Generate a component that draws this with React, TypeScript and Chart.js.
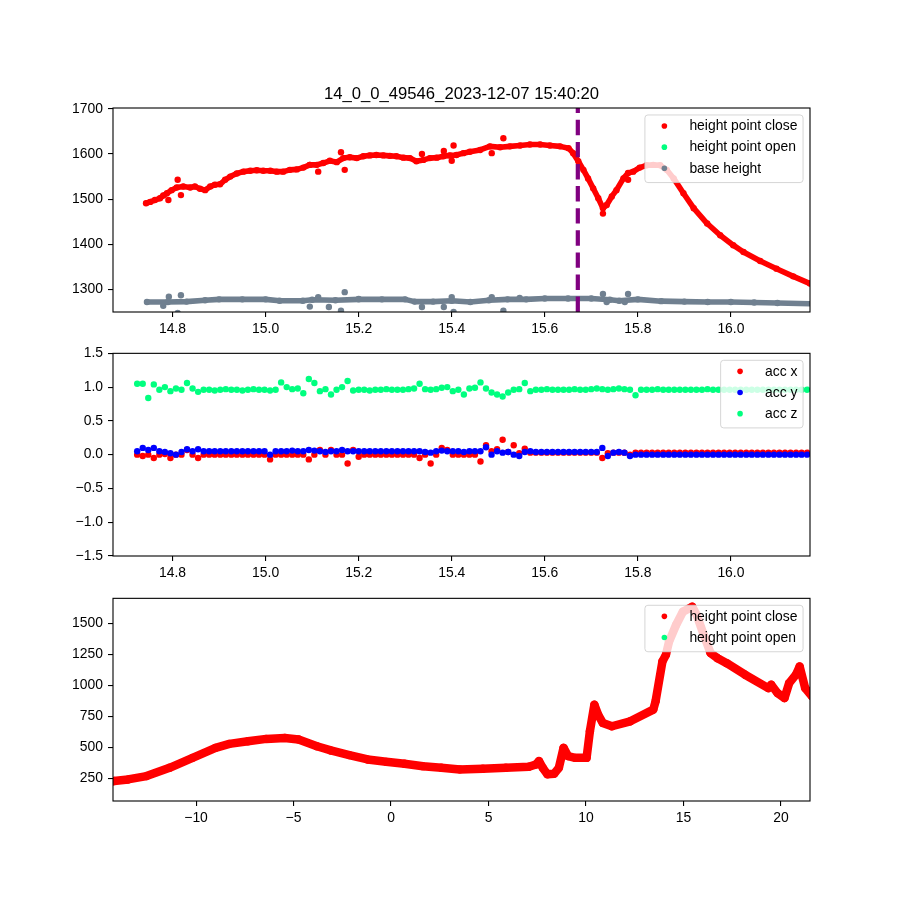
import React, { useEffect, useRef } from "react";
import { Chart, registerables } from "chart.js";
Chart.register(...registerables);

const FONT = "'Liberation Sans', Arial, sans-serif";
const RED = "#ff0000";
const GREEN = "#00ff7f";
const GRAY = "#708090";
const BLUE = "#0000ff";
const PURPLE = "#800080";

// ---------- top panel ----------
const titleText = "14_0_0_49546_2023-12-07 15:40:20";
const topXTicks = [14.8, 15.0, 15.2, 15.4, 15.6, 15.8, 16.0];
const topYTicks = [1300, 1400, 1500, 1600, 1700];
const closeX = [14.743, 14.752, 14.762, 14.773, 14.780, 14.788, 14.798, 14.809, 14.823, 14.838, 14.848, 14.859, 14.870, 14.881, 14.891, 14.902, 14.913, 14.924, 14.938, 14.952, 14.967, 14.981, 14.995, 15.010, 15.024, 15.038, 15.052, 15.067, 15.081, 15.095, 15.110, 15.124, 15.138, 15.153, 15.167, 15.181, 15.196, 15.210, 15.224, 15.238, 15.253, 15.267, 15.281, 15.296, 15.310, 15.324, 15.339, 15.353, 15.368, 15.382, 15.396, 15.410, 15.425, 15.439, 15.461, 15.482, 15.504, 15.525, 15.547, 15.568, 15.590, 15.611, 15.633, 15.651, 15.661, 15.672, 15.683, 15.693, 15.704, 15.715, 15.725, 15.733, 15.744, 15.754, 15.769, 15.779, 15.790, 15.804, 15.819, 15.833, 15.848, 15.862, 15.877, 15.898, 15.920, 15.949, 15.977, 16.005, 16.027, 16.063, 16.098, 16.134, 16.170, 16.19];
const closeY = [1491, 1494, 1498, 1502, 1508, 1513, 1520, 1526, 1528, 1526, 1528, 1523, 1520, 1528, 1532, 1533, 1543, 1550, 1557, 1561, 1563, 1564, 1563, 1563, 1561, 1561, 1565, 1566, 1570, 1576, 1576, 1580, 1585, 1582, 1591, 1593, 1591, 1595, 1597, 1598, 1597, 1596, 1595, 1592, 1591, 1584, 1587, 1591, 1592, 1595, 1597, 1598, 1602, 1605, 1609, 1617, 1615, 1617, 1619, 1621, 1621, 1619, 1617, 1613, 1602, 1584, 1565, 1546, 1524, 1502, 1480, 1487, 1506, 1520, 1546, 1558, 1561, 1570, 1575, 1576, 1575, 1565, 1546, 1513, 1480, 1446, 1420, 1398, 1383, 1363, 1346, 1329, 1313, 1305];
const closeOutX = [14.811, 14.818, 14.791, 15.162, 15.17, 15.095, 15.113, 15.383, 15.404, 15.40, 15.336, 15.511, 15.486, 15.779, 15.725];
const closeOutY = [1543, 1509, 1498, 1604, 1565, 1576, 1561, 1607, 1619, 1585, 1600, 1635, 1602, 1543, 1468];
const openX: number[] = [];
const openY: number[] = [];
const baseX = [14.745, 14.79, 14.83, 14.87, 14.90, 14.95, 15.00, 15.03, 15.08, 15.10, 15.15, 15.20, 15.25, 15.30, 15.32, 15.36, 15.40, 15.44, 15.48, 15.52, 15.56, 15.60, 15.65, 15.70, 15.74, 15.76, 15.80, 15.85, 15.90, 15.95, 16.00, 16.05, 16.10, 16.18];
const baseY = [1272, 1272, 1273, 1276, 1278, 1278, 1278, 1275, 1275, 1277, 1276, 1278, 1278, 1278, 1273, 1273, 1275, 1272, 1276, 1278, 1278, 1280, 1280, 1280, 1277, 1275, 1278, 1274, 1273, 1272, 1272, 1271, 1270, 1268];
const baseOutX = [14.792, 14.818, 14.78, 14.811, 15.113, 15.095, 15.136, 15.17, 15.162, 15.2, 15.336, 15.383, 15.40, 15.404, 15.486, 15.511, 15.546, 15.725, 15.733, 15.772, 15.779];
const baseOutY = [1284, 1287, 1264, 1248, 1283, 1262, 1261, 1294, 1253, 1279, 1261, 1261, 1283, 1250, 1283, 1253, 1281, 1290, 1272, 1272, 1290];
const markerX = [15.671];

// ---------- middle panel ----------
const accStart = 14.724;
const accStep = 0.0119;
const midYTicks = [-1.5, -1.0, -0.5, 0.0, 0.5, 1.0, 1.5];
const accXv = [
  0.0, -0.02, 0.0, -0.05, 0.0, 0.01, -0.05, 0.0, 0.0, 0.07, 0.0, -0.05, 0.0,
  0.0, 0.0, 0.0, 0.0, 0.0, 0.0, 0.0, 0.0, 0.0, 0.0, 0.0, -0.07, 0.0,
  0.0, 0.0, 0.0, 0.0, 0.0, -0.07, 0.0, 0.07, 0.0, 0.07, 0.0, 0.0, -0.13, 0.07,
  -0.03, 0.0, 0.0, 0.0, 0.0, 0.0, 0.0, 0.0, 0.0, 0.0, 0.0,
  -0.05, 0.0, -0.13, 0.0, 0.1, 0.07, 0.0, 0.0, 0.0, 0.0, 0.0, -0.1, 0.14, 0.05, 0.08, 0.22, 0.04, 0.14, 0.02, 0.09, 0.03,
  0.03, 0.03, 0.03, 0.03, 0.03, 0.03, 0.03, 0.03, 0.03, 0.03, 0.03, 0.03, -0.05, 0.02, 0.03, 0.03, 0.03,
  0.0, 0.03,
  0.03, 0.03, 0.03, 0.03, 0.03, 0.03, 0.03, 0.03, 0.03, 0.03, 0.03, 0.03, 0.03, 0.03, 0.03, 0.03, 0.03, 0.03, 0.03, 0.03, 0.03, 0.03, 0.03, 0.03, 0.03, 0.03, 0.03, 0.03, 0.03, 0.03, 0.03,
];
const accYv = [
  0.05, 0.10, 0.07, 0.10, 0.05, 0.04, 0.02, 0.0, 0.04, 0.08, 0.05, 0.08, 0.05,
  0.05, 0.05, 0.05, 0.05, 0.05, 0.05, 0.05, 0.05, 0.05, 0.05, 0.05, 0.0, 0.05,
  0.05, 0.05, 0.06, 0.05, 0.05, 0.07, 0.06, 0.05, 0.04, 0.05, 0.05, 0.07, 0.05, 0.05,
  0.05, 0.05, 0.05, 0.05, 0.05, 0.05, 0.05, 0.05, 0.05, 0.05, 0.05,
  0.05, 0.04, 0.03, 0.05, 0.06, 0.05, 0.05, 0.05, 0.04, 0.05, 0.05, 0.05, 0.11, 0.0, 0.05, 0.03, 0.04, 0.0, -0.02, 0.04, 0.05,
  0.04, 0.04, 0.04, 0.04, 0.04, 0.04, 0.04, 0.04, 0.04, 0.04, 0.04, 0.04, 0.10, -0.02, 0.03, 0.04, 0.03,
  -0.02, 0.0,
  0.0, 0.0, 0.0, 0.0, 0.0, 0.0, 0.0, 0.0, 0.0, 0.0, 0.0, 0.0, 0.0, 0.0, 0.0, 0.0, 0.0, 0.0, 0.0, 0.0, 0.0, 0.0, 0.0, 0.0, 0.0, 0.0, 0.0, 0.0, 0.0, 0.0, 0.0,
];
const accZv = [
  1.05, 1.05, 0.84, 1.04, 0.96, 1.00, 0.94, 0.98, 0.96, 1.06, 0.98, 0.93, 0.96,
  0.96, 0.95, 0.96, 0.97, 0.96, 0.96, 0.95, 0.96, 0.97, 0.96, 0.96, 0.95, 0.96,
  1.07, 1.00, 0.97, 0.98, 0.91, 1.12, 1.06, 0.94, 0.97, 0.89, 0.96, 1.00, 1.09, 0.95,
  0.96, 0.96, 0.95, 0.96, 0.96, 0.97, 0.96, 0.96, 0.96, 0.97, 0.98,
  1.05, 0.97, 0.96, 0.97, 0.99, 1.00, 0.94, 0.96, 0.89, 0.98, 0.99, 1.07, 0.98, 0.92, 0.89, 0.86, 0.92, 0.96, 0.97, 1.06, 0.94,
  0.96, 0.96, 0.97, 0.96, 0.96, 0.96, 0.96, 0.97, 0.96, 0.96, 0.97, 0.98, 0.97, 0.96, 0.97, 0.98, 0.97,
  0.96, 0.88,
  0.96, 0.96, 0.96, 0.97, 0.96, 0.96, 0.96, 0.96, 0.96, 0.96, 0.96, 0.96, 0.97, 0.96, 0.96, 0.96, 0.96, 0.96, 0.96, 0.96, 0.96, 0.96, 0.96, 0.96, 0.96, 0.96, 0.96, 0.96, 0.96, 0.96, 0.96,
];

// ---------- bottom panel ----------
const botXTicks = [-10, -5, 0, 5, 10, 15, 20];
const botYTicks = [250, 500, 750, 1000, 1250, 1500];
const histX = [-14.3, -14.2, -13.49, -12.54, -11.36, -10.18, -9.0, -8.29, -7.34, -6.40, -5.45, -4.74, -3.80, -3.09, -2.14, -1.20, -0.25, 0.69, 1.64, 2.58, 3.53, 4.71, 5.89, 7.07, 7.43, 7.59, 7.78, 8.02, 8.37, 8.61, 8.85, 9.08, 9.44, 10.03, 10.20, 10.43, 10.62, 10.86, 11.33, 12.27, 13.45, 13.57, 13.92, 14.1, 14.26, 14.62, 14.97, 15.45, 15.68, 16.04, 16.39, 16.75, 17.22, 18.16, 19.35, 19.5, 19.82, 20.18, 20.42, 20.77, 20.96, 21.24, 21.6];
const histY = [224, 226, 239, 266, 333, 413, 494, 526, 547, 566, 574, 561, 507, 473, 435, 400, 381, 365, 346, 333, 320, 325, 333, 341, 360, 387, 333, 280, 285, 333, 494, 427, 413, 413, 628, 842, 762, 695, 668, 708, 802, 869, 1190, 1244, 1351, 1485, 1592, 1632, 1565, 1405, 1258, 1217, 1177, 1084, 976, 1003, 936, 895, 1016, 1084, 1150, 976, 909];

const pts = (xs: number[], ys: number[]) => xs.map((x, i) => ({ x, y: ys[i] }));
const minus = (s: string) => s.replace("-", "\u2212");

const framePlugin = {
  id: "mplFrame",
  afterDatasetsDraw(chart: any) {
    const { ctx, chartArea: a } = chart;
    ctx.save();
    ctx.strokeStyle = "#000";
    ctx.lineWidth = 1.1;
    ctx.strokeRect(a.left, a.top, a.right - a.left, a.bottom - a.top);
    ctx.restore();
  },
};

const legendPlugin = {
  id: "mplLegend",
  afterDraw(chart: any) {
    const items = chart.data.datasets.filter((d: any) => d.inLegend);
    if (!items.length) return;
    const { ctx, chartArea: a } = chart;
    const fs = 13.9;
    const pad = 5.56;
    const rowH = 14.2;
    const gap = 6.95;
    ctx.save();
    ctx.font = `${fs}px ${FONT}`;
    const tw = Math.max(...items.map((d: any) => ctx.measureText(d.label).width));
    const w = pad + 27.8 + 11.1 + tw + pad;
    const h = 2 * pad + items.length * rowH + (items.length - 1) * gap;
    const right = a.right - 6.95;
    const top = a.top + 6.95;
    const left = right - w;
    ctx.beginPath();
    (ctx as any).roundRect(left, top, w, h, 3);
    ctx.fillStyle = "rgba(255,255,255,0.8)";
    ctx.fill();
    ctx.strokeStyle = "rgba(204,204,204,0.8)";
    ctx.lineWidth = 1;
    ctx.stroke();
    items.forEach((d: any, i: number) => {
      const cy = top + pad + 5.5 + i * (rowH + gap);
      ctx.beginPath();
      ctx.arc(left + pad + 13.9, cy, 2.8, 0, Math.PI * 2);
      ctx.fillStyle = d.pointBackgroundColor;
      ctx.fill();
      ctx.fillStyle = "#000";
      ctx.textBaseline = "middle";
      ctx.textAlign = "left";
      ctx.fillText(d.label, left + pad + 27.8 + 11.1, cy + 0.5);
    });
    ctx.restore();
  },
};

function xAxis(min: number, max: number, ticks: number[], fmt: (v: number) => string) {
  return {
    type: "linear",
    min,
    max,
    afterBuildTicks: (s: any) => {
      s.ticks = ticks.map((v) => ({ value: v }));
    },
    afterFit: (s: any) => {
      s.height = 25;
    },
    grid: { display: true, drawOnChartArea: false, drawTicks: true, tickLength: 5, color: "#000", lineWidth: 1.1 },
    border: { display: false },
    ticks: {
      color: "#000",
      font: { family: FONT, size: 13.9 },
      padding: 4,
      maxRotation: 0,
      autoSkip: false,
      callback: (v: any) => fmt(Number(v)),
    },
  };
}

function yAxis(min: number, max: number, ticks: number[], fmt: (v: number) => string) {
  return {
    type: "linear",
    min,
    max,
    afterBuildTicks: (s: any) => {
      s.ticks = ticks.map((v) => ({ value: v }));
    },
    afterFit: (s: any) => {
      s.width = 60;
    },
    grid: { display: true, drawOnChartArea: false, drawTicks: true, tickLength: 5, color: "#000", lineWidth: 1.1 },
    border: { display: false },
    ticks: {
      color: "#000",
      font: { family: FONT, size: 13.9 },
      padding: 5,
      autoSkip: false,
      callback: (v: any) => fmt(Number(v)),
    },
  };
}

function dotLine(label: string, color: string, data: any[], order: number, inLegend: boolean, width = 5.6, radius = 3.2) {
  return {
    label,
    data,
    inLegend,
    order,
    showLine: true,
    borderColor: color,
    borderWidth: width,
    borderCapStyle: "round",
    borderJoinStyle: "round",
    tension: 0,
    pointRadius: radius,
    pointBorderWidth: 0,
    pointBackgroundColor: color,
    pointHoverRadius: radius,
    clip: 0,
  };
}

function dots(label: string, color: string, data: any[], order: number, inLegend: boolean, radius = 3.2) {
  return {
    label,
    data,
    inLegend,
    order,
    showLine: false,
    borderColor: color,
    pointRadius: radius,
    pointBorderWidth: 0,
    pointBackgroundColor: color,
    pointHoverRadius: radius,
    clip: 0,
  };
}

const basePlugins = (title?: string) => ({
  legend: { display: false },
  tooltip: { enabled: false },
  title: title
    ? {
        display: true,
        text: title,
        color: "#000",
        font: { family: FONT, size: 16.67, weight: "normal" },
        padding: { top: 84, bottom: 4 },
        fullSize: false,
      }
    : { display: false },
});

function buildTop(canvas: HTMLCanvasElement) {
  const yMin = 1250;
  const yMax = 1702;
  return new Chart(canvas, {
    type: "scatter",
    data: {
      datasets: [
        dotLine("height point close", RED, pts(closeX, closeY), 3, true),
        dots("height point open", GREEN, pts(openX, openY), 3, true),
        dotLine("base height", GRAY, pts(baseX, baseY), 2, true),
        dots("close extra", RED, pts(closeOutX, closeOutY), 3, false),
        dots("base extra", GRAY, pts(baseOutX, baseOutY), 2, false),
        {
          label: "marker",
          data: [
            { x: markerX[0], y: yMin },
            { x: markerX[0], y: yMax },
          ],
          inLegend: false,
          order: 0,
          showLine: true,
          borderColor: PURPLE,
          borderWidth: 4.2,
          borderDash: [15.4, 6.7],
          pointRadius: 0,
          clip: 0,
        },
      ] as any,
    },
    options: {
      animation: false,
      responsive: false,
      events: [],
      layout: { padding: { left: 53, right: 90, top: 0, bottom: 3 } },
      scales: {
        x: xAxis(14.672, 16.17, topXTicks, (v) => v.toFixed(1)),
        y: yAxis(yMin, yMax, topYTicks, (v) => String(v)),
      } as any,
      plugins: basePlugins(titleText) as any,
    },
    plugins: [framePlugin, legendPlugin],
  });
}

function buildMid(canvas: HTMLCanvasElement) {
  const t = accXv.map((_, i) => accStart + i * accStep);
  return new Chart(canvas, {
    type: "scatter",
    data: {
      datasets: [
        dots("acc x", RED, pts(t, accXv), 2, true, 3.2),
        dots("acc y", BLUE, pts(t, accYv), 1, true, 3.2),
        dots("acc z", GREEN, pts(t, accZv), 0, true, 3.2),
      ] as any,
    },
    options: {
      animation: false,
      responsive: false,
      events: [],
      layout: { padding: { left: 53, right: 90, top: 13, bottom: 4 } },
      scales: {
        x: xAxis(14.672, 16.17, topXTicks, (v) => v.toFixed(1)),
        y: yAxis(-1.5, 1.5, midYTicks, (v) => minus(v.toFixed(1))),
      } as any,
      plugins: basePlugins() as any,
    },
    plugins: [framePlugin, legendPlugin],
  });
}

function buildBot(canvas: HTMLCanvasElement) {
  return new Chart(canvas, {
    type: "scatter",
    data: {
      datasets: [
        dotLine("height point close", RED, pts(histX, histY), 1, true, 8.5, 4.2),
        dots("height point open", GREEN, pts(openX, openY), 0, true),
      ] as any,
    },
    options: {
      animation: false,
      responsive: false,
      events: [],
      layout: { padding: { left: 53, right: 90, top: 12, bottom: 74 } },
      scales: {
        x: xAxis(-14.26, 21.49, botXTicks, (v) => minus(String(v))),
        y: yAxis(65, 1700, botYTicks, (v) => String(v)),
      } as any,
      plugins: basePlugins() as any,
    },
    plugins: [framePlugin, legendPlugin],
  });
}

function Panel({ top, height, build }: { top: number; height: number; build: (c: HTMLCanvasElement) => Chart }) {
  const ref = useRef<HTMLCanvasElement | null>(null);
  useEffect(() => {
    if (!ref.current) return;
    const chart = build(ref.current);
    return () => chart.destroy();
  }, [build]);
  return (
    <canvas
      ref={ref}
      width={900}
      height={height}
      style={{ position: "absolute", left: 0, top, width: 900, height }}
    />
  );
}

export default function App() {
  return (
    <div style={{ position: "fixed", left: 0, top: 0, width: 900, height: 900, background: "#fff" }}>
      <Panel top={0} height={340} build={buildTop} />
      <Panel top={340} height={245} build={buildMid} />
      <Panel top={585} height={315} build={buildBot} />
    </div>
  );
}
